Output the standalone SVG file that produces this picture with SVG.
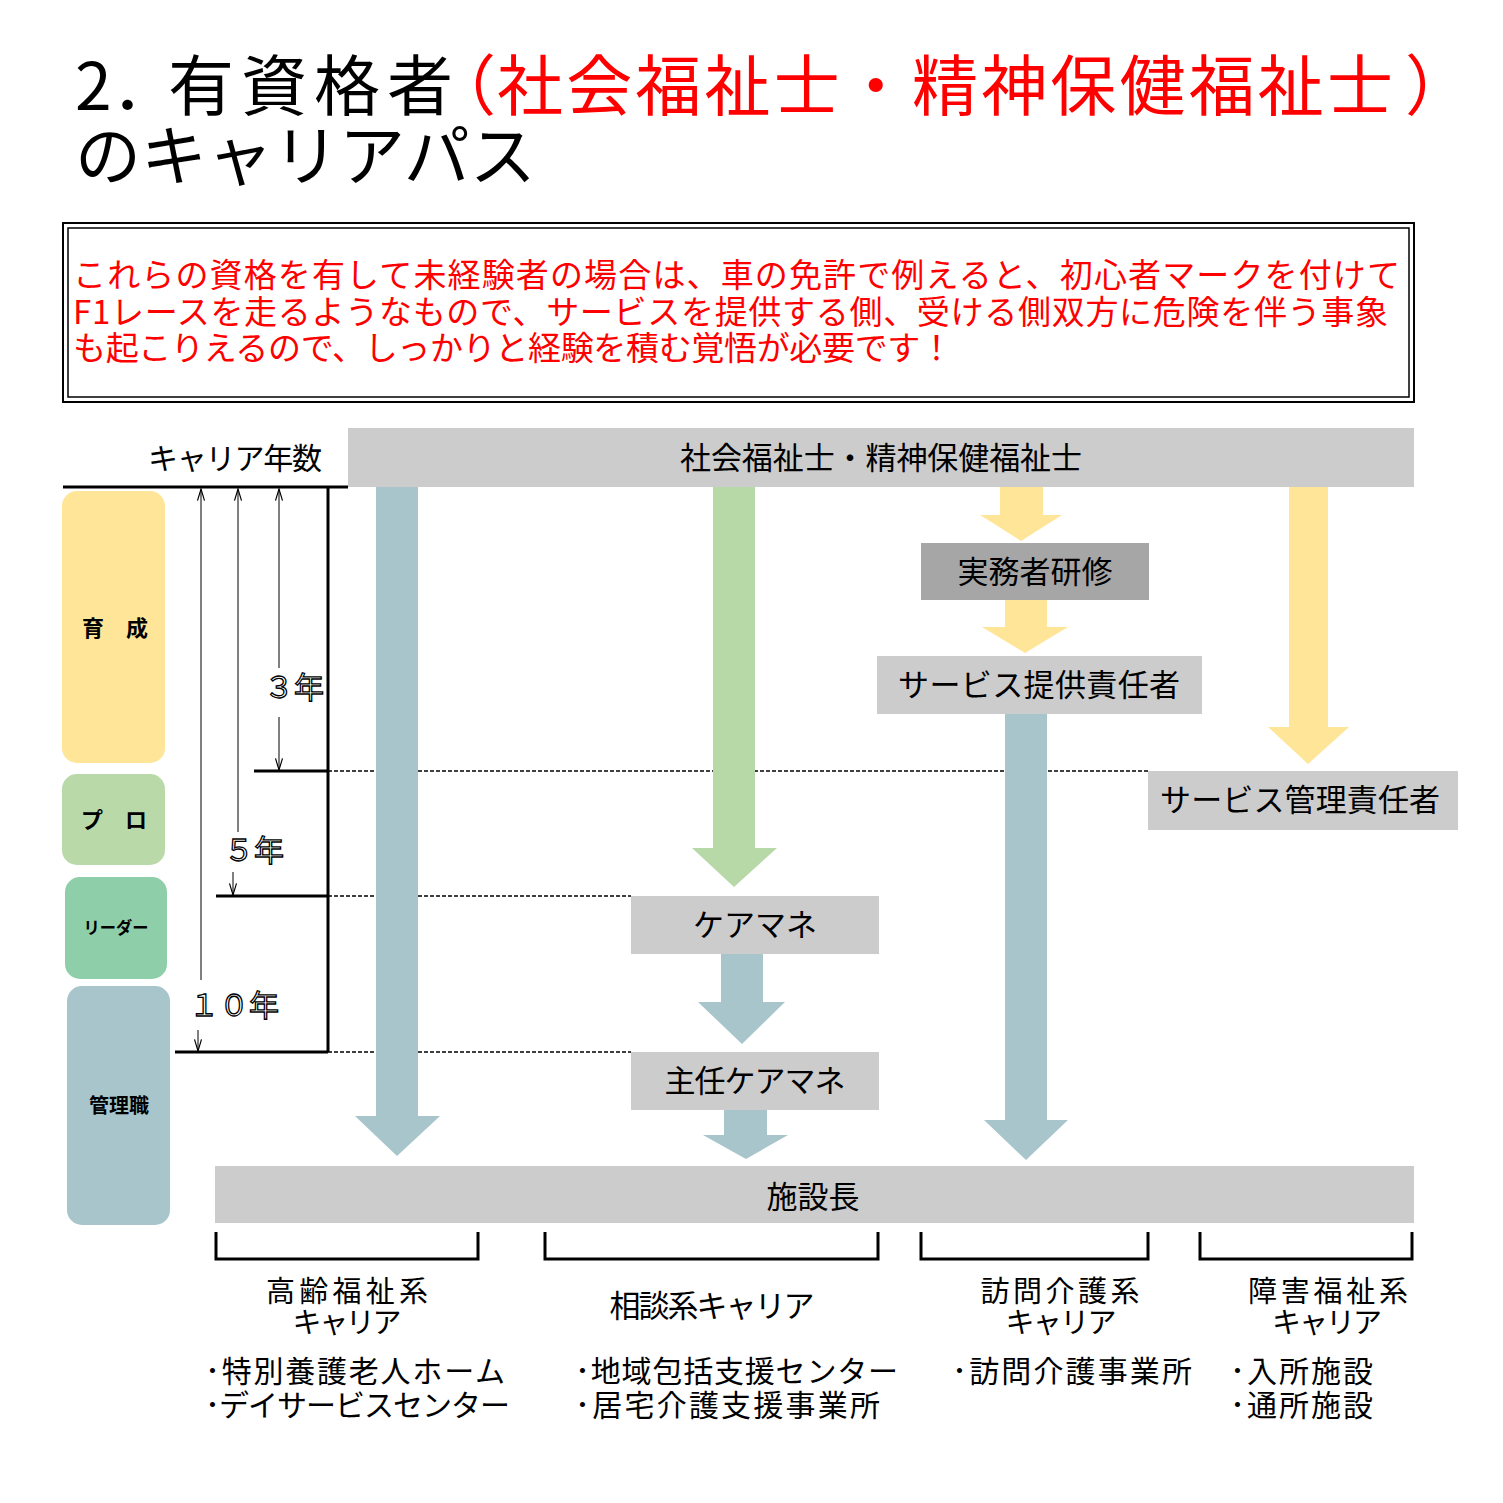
<svg xmlns="http://www.w3.org/2000/svg" width="1503" height="1503" viewBox="0 0 1503 1503">
<style>
text{font-family:"Noto Sans CJK JP","Noto Sans",sans-serif;fill:#000}
.t{font-size:66px}
.red{fill:#ff0000}
.body{font-size:33px;fill:#ff0000}
.lbl{font-size:31px;text-anchor:middle}
.lbl2{font-size:29px;text-anchor:middle}
.sm{font-size:30px}
.stage{font-weight:bold;text-anchor:middle}
.yr{font-size:30px;fill:#ffffff;stroke:#000;stroke-width:1.3}
.gray{fill:#cccccc}
.dark{fill:#a6a6a6}
.blue{fill:#a7c5ca}
.green{fill:#b7d8a7}
.yellow{fill:#ffe598}
.thick{stroke:#000;stroke-width:3;fill:none}
.dot{stroke:#000;stroke-width:1.5;stroke-dasharray:4 2;fill:none}
.dim{stroke:#000;stroke-width:1;fill:none;marker-end:url(#tip)}
</style>
<defs>
<marker id="tip" markerUnits="userSpaceOnUse" markerWidth="14" markerHeight="10" refX="10" refY="4" orient="auto" viewBox="0 0 12 8">
<path d="M0,1 L10,4 L0,7" fill="none" stroke="#000" stroke-width="1"/>
</marker>
</defs>
<rect width="1503" height="1503" fill="#ffffff"/>

<g id="title">
<text class="t" x="75" y="110">2．</text>
<text class="t" x="168" y="110" textLength="285" lengthAdjust="spacing">有資格者</text>
<text class="t red" x="430" y="110">（</text>
<text class="t red" x="497" y="110" textLength="896" lengthAdjust="spacing">社会福祉士・精神保健福祉士</text>
<text class="t red" x="1405" y="110">）</text>
<text class="t" x="75" y="180">のキャリアパス</text>
</g>

<g id="note">
<rect x="63" y="223" width="1351" height="179" fill="none" stroke="#000" stroke-width="2"/>
<rect x="68" y="228" width="1341" height="169" fill="none" stroke="#000" stroke-width="1.5"/>
<text class="body" x="73" y="287" textLength="1327" lengthAdjust="spacing">これらの資格を有して未経験者の場合は、車の免許で例えると、初心者マークを付けて</text>
<text class="body" x="73" y="324" textLength="1315" lengthAdjust="spacing">F1レースを走るようなもので、サービスを提供する側、受ける側双方に危険を伴う事象</text>
<text class="body" x="73" y="360" textLength="880" lengthAdjust="spacing">も起こりえるので、しっかりと経験を積む覚悟が必要です！</text>
</g>

<g id="guides">
<path class="dot" d="M328,771 H1148 M328,896 H631 M328,1052 H631"/>
</g>

<g id="connectors">
<path class="blue" d="M376,483 H418 V1116 H440 L397,1156 L355,1116 H376 Z"/>
<path class="green" d="M713,487 H755 V848 H777 L734,887 L692,848 H713 Z"/>
<path class="yellow" d="M1000,487 H1043 V515 H1062 L1021,541 L980,515 H1000 Z"/>
<path class="yellow" d="M1005,600 H1047 V627 H1068 L1025,653 L982,627 H1005 Z"/>
<path class="blue" d="M1005,714 H1047 V1120 H1068 L1026,1160 L984,1120 H1005 Z"/>
<path class="yellow" d="M1289,487 H1328 V727 H1349 L1308,764 L1268,727 H1289 Z"/>
<path class="blue" d="M721,954 H763 V1002 H785 L742,1044 L698,1002 H721 Z"/>
<path class="blue" d="M724,1110 H767 V1135 H788 L746,1159 L703,1135 H724 Z"/>
</g>

<g id="scale">
<path class="thick" d="M63,487 H348 M328,487 V1052 M254,771 H328 M216,896 H328 M175,1052 H328"/>
<path class="dim" d="M279,668 V489"/>
<path class="dim" d="M279,717 V770"/>
<path class="dim" d="M238,832 V489"/>
<path class="dim" d="M233,872 V895"/>
<path class="dim" d="M201,980 V489"/>
<path class="dim" d="M198,1030 V1051"/>
<text class="yr" x="264" y="698">３年</text>
<text class="yr" x="224" y="861">５年</text>
<text class="yr" x="189" y="1016">１０年</text>
<text class="sm" x="148" y="469" textLength="174" lengthAdjust="spacing">キャリア年数</text>
</g>

<g id="stage-ikusei">
<rect x="62" y="491" width="103" height="272" rx="15" fill="#ffe598"/>
<text class="stage" x="115" y="636" font-size="22">育　成</text>
</g>
<g id="stage-pro">
<rect x="62" y="774" width="103" height="91" rx="15" fill="#b9d9a9"/>
<text class="stage" x="114" y="828" font-size="22">プ　ロ</text>
</g>
<g id="stage-leader">
<rect x="65" y="877" width="102" height="102" rx="15" fill="#8ecfa9"/>
<text class="stage" x="116" y="934" font-size="17" textLength="65" lengthAdjust="spacingAndGlyphs">リーダー</text>
</g>
<g id="stage-kanri">
<rect x="67" y="986" width="103" height="239" rx="15" fill="#a7c5ca"/>
<text class="stage" x="119" y="1113" font-size="20">管理職</text>
</g>

<g id="top-bar">
<rect class="gray" x="348" y="428" width="1066" height="59"/>
<text class="lbl" x="881" y="469" textLength="402" lengthAdjust="spacing">社会福祉士・精神保健福祉士</text>
</g>
<g id="jitsumu">
<rect class="dark" x="921" y="543" width="228" height="57"/>
<text class="lbl" x="1035" y="583" font-size="32px">実務者研修</text>
</g>
<g id="teikyou">
<rect class="gray" x="877" y="656" width="325" height="58"/>
<text class="lbl" x="1039" y="696" textLength="282" lengthAdjust="spacing">サービス提供責任者</text>
</g>
<g id="kanri">
<rect class="gray" x="1148" y="771" width="310" height="59"/>
<text class="lbl" x="1300" y="811" textLength="280" lengthAdjust="spacing">サービス管理責任者</text>
</g>
<g id="caremane">
<rect class="gray" x="631" y="896" width="248" height="58"/>
<text class="lbl" x="755" y="936">ケアマネ</text>
</g>
<g id="shunin">
<rect class="gray" x="631" y="1052" width="248" height="58"/>
<text class="lbl" x="755" y="1092" textLength="181" lengthAdjust="spacing">主任ケアマネ</text>
</g>
<g id="shisetsucho">
<rect class="gray" x="215" y="1166" width="1199" height="57"/>
<text class="lbl" x="813" y="1208">施設長</text>
</g>

<g id="brackets">
<path class="thick" d="M216,1232 V1259 H478 V1232 M545,1232 V1259 H878 V1232 M921,1232 V1259 H1148 V1232 M1200,1232 V1259 H1412 V1232"/>
</g>

<g id="career-koureI">
<text class="lbl2" x="347" y="1302" textLength="162" lengthAdjust="spacing">高齢福祉系</text>
<text class="lbl2" x="347" y="1333" textLength="109" lengthAdjust="spacing">キャリア</text>
<text class="sm" x="205" y="1382" textLength="300" lengthAdjust="spacing">･特別養護老人ホーム</text>
<text class="sm" x="205" y="1416" textLength="305" lengthAdjust="spacing">･デイサービスセンター</text>
</g>
<g id="career-soudan">
<text class="lbl" x="712" y="1317" textLength="205" lengthAdjust="spacing">相談系キャリア</text>
<text class="sm" x="575" y="1382" textLength="323" lengthAdjust="spacing">･地域包括支援センター</text>
<text class="sm" x="575" y="1416" textLength="305" lengthAdjust="spacing">･居宅介護支援事業所</text>
</g>
<g id="career-houmon">
<text class="lbl2" x="1060" y="1302" textLength="159" lengthAdjust="spacing">訪問介護系</text>
<text class="lbl2" x="1061" y="1333" textLength="111" lengthAdjust="spacing">キャリア</text>
<text class="sm" x="952" y="1382" textLength="240" lengthAdjust="spacing">･訪問介護事業所</text>
</g>
<g id="career-shougai">
<text class="lbl2" x="1328" y="1302" textLength="160" lengthAdjust="spacing">障害福祉系</text>
<text class="lbl2" x="1327" y="1333" textLength="110" lengthAdjust="spacing">キャリア</text>
<text class="sm" x="1230" y="1382" textLength="143" lengthAdjust="spacing">･入所施設</text>
<text class="sm" x="1230" y="1416" textLength="143" lengthAdjust="spacing">･通所施設</text>
</g>
</svg>
